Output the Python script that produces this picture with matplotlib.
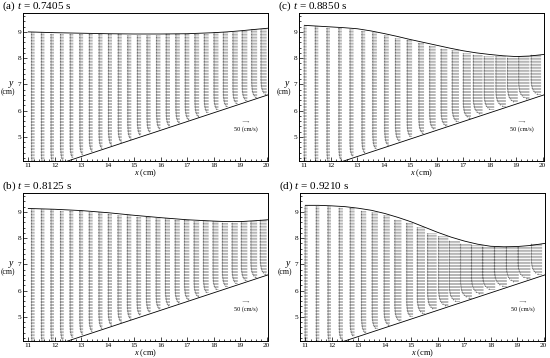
import numpy as np
import matplotlib.pyplot as plt
from matplotlib.ticker import MultipleLocator

plt.rcParams["font.family"] = "Liberation Serif"
plt.rcParams["mathtext.fontset"] = "custom"
plt.rcParams["mathtext.rm"] = "Liberation Serif"
plt.rcParams["mathtext.it"] = "Liberation Serif:italic"

# ── Sloping bed (1:3) ─────────────────────────────────────────────
bed_x = [12.25, 20.05]
bed_y = [4.0, 6.6]

# boundary layer: fraction of column speed vs height above bed (cm)
bl_dist = [0.0, 0.05, 0.10, 0.20, 0.30, 0.45, 0.60]
bl_frac = [0.15, 0.40, 0.60, 0.80, 0.90, 0.97, 1.00]

# ── (a) t = 0.7405 s ──────────────────────────────────────────────
a_cols = [11.24, 11.61, 11.97, 12.34, 12.70, 13.07, 13.43, 13.80, 14.16,
          14.53, 14.89, 15.26, 15.62, 15.99, 16.35, 16.72, 17.08, 17.45,
          17.81, 18.18, 18.54, 18.91, 19.27, 19.64, 20.00]
a_speed = [30, 30, 30, 31, 31, 32, 32, 33, 33, 34, 34, 35, 35, 36, 36, 37,
           38, 39, 40, 41, 42, 44, 46, 48, 50]
a_surf_x = [11, 12, 13, 14, 15, 16, 17, 17.5, 18, 18.5, 19, 19.5, 20.05]
a_surf_y = [9.00, 8.97, 8.95, 8.93, 8.92, 8.92, 8.93, 8.95, 8.97, 9.00,
            9.04, 9.09, 9.14]

# ── (b) t = 0.8125 s ──────────────────────────────────────────────
b_cols = a_cols
b_speed = [30, 30, 30, 31, 32, 32, 33, 34, 35, 36, 37, 38, 39, 40, 41, 42,
           43, 45, 46, 48, 49, 50, 52, 54, 55]
b_surf_x = [11, 12, 13, 14, 15, 16, 17, 18, 18.5, 19, 19.5, 20.05]
b_surf_y = [9.13, 9.10, 9.05, 8.97, 8.87, 8.78, 8.70, 8.65, 8.63, 8.63,
            8.66, 8.70]

# ── (c) t = 0.8850 s ──────────────────────────────────────────────
c_cols = [11.09, 11.53, 11.97, 12.42, 12.86, 13.30, 13.74, 14.19, 14.63,
          15.07, 15.52, 15.96, 16.40, 16.84, 17.29, 17.73, 18.17, 18.61,
          19.06, 19.50, 19.94]
c_speed = [26, 30, 30, 30, 34, 32, 38, 38, 44, 44, 46, 52, 54, 58, 64, 76,
           82, 82, 84, 88, 82]
c_surf_x = [11, 11.5, 12, 12.5, 13, 13.5, 14, 14.5, 15, 15.5, 16, 16.5, 17,
            17.5, 18, 18.5, 19, 19.5, 20.05]
c_surf_y = [9.25, 9.22, 9.19, 9.16, 9.12, 9.04, 8.94, 8.83, 8.71, 8.60,
            8.49, 8.38, 8.28, 8.20, 8.14, 8.09, 8.06, 8.08, 8.14]

# ── (d) t = 0.9210 s ──────────────────────────────────────────────
d_cols = c_cols
d_speed = [27, 30, 30, 35, 40, 42, 50, 50, 57, 55, 65, 75, 80, 87, 92, 97,
           102, 100, 100, 100, 88]
d_surf_x = c_surf_x
d_surf_y = [9.25, 9.25, 9.23, 9.20, 9.14, 9.06, 8.94, 8.79, 8.62, 8.42,
            8.22, 8.04, 7.89, 7.77, 7.69, 7.67, 7.68, 7.72, 7.80]

panels = [
    ("(a)", "0.7405", a_cols, a_speed, a_surf_x, a_surf_y, [23, 13]),
    ("(c)", "0.8850", c_cols, c_speed, c_surf_x, c_surf_y, [299, 13]),
    ("(b)", "0.8125", b_cols, b_speed, b_surf_x, b_surf_y, [23, 193]),
    ("(d)", "0.9210", d_cols, d_speed, d_surf_x, d_surf_y, [300, 193]),
]

W, H = 550, 358
AX_W, AX_H = 245, 148
bed_slope = (bed_y[1] - bed_y[0]) / (bed_x[1] - bed_x[0])
rows = np.arange(4.0, 9.4, 0.057)

fig = plt.figure(figsize=(W / 100, H / 100), dpi=100)

for tag, t, cols, speed, sx, sy, (px, py) in panels:
    ax = fig.add_axes([px / W, 1 - (py + AX_H) / H, AX_W / W, AX_H / H])

    X, Y, U = [], [], []
    for xc, sp in zip(cols, speed):
        top = np.interp(xc, sx, sy)
        bot = bed_y[0] + (xc - bed_x[0]) * bed_slope
        ys = rows[(rows > bot + 0.03) & (rows < top - 0.02)]
        frac = np.interp(ys - bot, bl_dist, bl_frac)
        X.extend([xc] * len(ys))
        Y.extend(ys)
        U.extend(-sp * frac)
    X, Y, U = np.array(X), np.array(Y), np.array(U)

    q = ax.quiver(X, Y, U, np.zeros_like(U), angles="xy", scale_units="xy",
                  scale=200, units="dots", width=0.4, headwidth=4,
                  headlength=3.5, headaxislength=3.2, color="0.3")
    ax.quiverkey(q, 0.91, 0.265, 50, "50 (cm/s)", labelpos="S",
                 labelsep=0.04, fontproperties={"size": 4.5})

    ax.plot(sx, sy, color="k", lw=0.6)
    ax.plot(bed_x, bed_y, color="k", lw=0.6)

    ax.set_xlim(10.8, 20.05)
    ax.set_ylim(4.08, 9.72)
    ax.xaxis.set_major_locator(MultipleLocator(1))
    ax.xaxis.set_minor_locator(MultipleLocator(0.2))
    ax.yaxis.set_major_locator(MultipleLocator(1))
    ax.yaxis.set_minor_locator(MultipleLocator(0.2))
    ax.tick_params(which="both", direction="in", top=False, right=False,
                   width=0.5, labelsize=5.2, pad=1.2)
    ax.tick_params(which="major", length=3)
    ax.tick_params(which="minor", length=1.5)
    for s in ax.spines.values():
        s.set_linewidth(0.7)

    ax.text(0.5, -0.082, "$x$ (cm)", transform=ax.transAxes,
            ha="center", va="center", fontsize=6)
    ax.text(-0.047, 0.52, "$y$", transform=ax.transAxes,
            ha="center", va="center", fontsize=7)
    ax.text(-0.062, 0.465, "(cm)", transform=ax.transAxes,
            ha="center", va="center", fontsize=5.5)

    fig.text((px - 21) / W, 1 - (py - 7) / H, f"{tag} $t$ = {t} s",
             ha="left", va="center", fontsize=8)

fig.savefig("out.png", dpi=100)
